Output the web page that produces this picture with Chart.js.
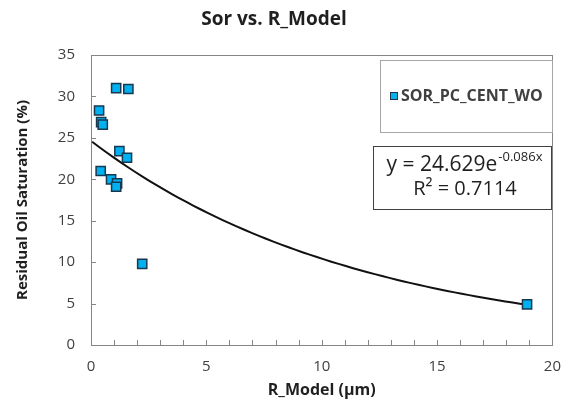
<!DOCTYPE html>
<html>
<head>
<meta charset="utf-8">
<title>Sor vs. R_Model</title>
<script src="https://cdn.jsdelivr.net/npm/chart.js@4.4.1/dist/chart.umd.min.js"></script>
<style>
  html, body { margin: 0; padding: 0; background: #fff; }
  #wrap { position: relative; width: 574px; height: 410px; }
</style>
</head>
<body>
<div id="wrap">
  <canvas id="chart" width="574" height="410"></canvas>
</div>
<script>
// ── DATA ────────────────────────────────────────────────────
const rModel = [1.09, 1.62, 0.35, 0.44, 0.51, 1.23, 1.56, 0.42, 0.87, 1.13, 1.09, 2.22, 18.9];
const sorPct = [31.0, 30.9, 28.3, 26.9, 26.6, 23.4, 22.6, 21.0, 20.0, 19.5, 19.1, 9.8, 4.9];
const xTicks = [0, 5, 10, 15, 20];
const yTicks = [0, 5, 10, 15, 20, 25, 30, 35];

// exponential trendline y = a * e^(b x), as printed on the chart
const trendA = 24.629;
const trendB = -0.086;
const trendR2 = 0.7114;
const trendFrom = 0.05;

const FONT = '"Open Sans", sans-serif';
const BLUE = '#00b0f0';
const MARK_EDGE = '#17394f';

// trend curve sampled between first fitted x and the largest measured x
const trendPts = [];
(function () {
  const xMax = Math.max(...rModel);
  const n = 60;
  for (let i = 0; i <= n; i++) {
    const x = trendFrom + (xMax - trendFrom) * i / n;
    trendPts.push({ x: x, y: trendA * Math.exp(trendB * x) });
  }
})();

const points = rModel.map((x, i) => ({ x: x, y: sorPct[i] }));

// ── DECORATIONS: frame, inside ticks, title, legend, equation ──
const decor = {
  id: 'decor',
  beforeDatasetsDraw(chart) {
    const { ctx, chartArea: a, scales: { x, y } } = chart;
    ctx.save();
    ctx.strokeStyle = '#868686';
    ctx.lineWidth = 1;
    ctx.strokeRect(Math.round(a.left) + 0.5, Math.round(a.top) + 0.5,
                   Math.round(a.right - a.left), Math.round(a.bottom - a.top));
    ctx.beginPath();
    for (let v = x.min; v <= x.max; v++) {
      const px = Math.round(x.getPixelForValue(v)) + 0.5;
      ctx.moveTo(px, a.bottom);
      ctx.lineTo(px, a.bottom - 5);
    }
    yTicks.forEach(v => {
      const py = Math.round(y.getPixelForValue(v)) + 0.5;
      ctx.moveTo(a.left, py);
      ctx.lineTo(a.left + 5, py);
    });
    ctx.stroke();
    ctx.restore();
  },
  afterDraw(chart) {
    const { ctx } = chart;
    ctx.save();

    // title
    ctx.fillStyle = '#1f1f1f';
    ctx.font = 'bold 19px ' + FONT;
    ctx.textAlign = 'center';
    ctx.textBaseline = 'middle';
    ctx.fillText('Sor vs. R_Model', 274, 20);

    // legend box
    ctx.fillStyle = '#fff';
    ctx.fillRect(380.5, 60.5, 172, 72);
    ctx.strokeStyle = '#a6a6a6';
    ctx.strokeRect(380.5, 60.5, 172, 72);
    ctx.fillStyle = BLUE;
    ctx.fillRect(390.5, 92.5, 7, 7);
    ctx.strokeStyle = MARK_EDGE;
    ctx.strokeRect(390.5, 92.5, 7, 7);
    ctx.fillStyle = '#404040';
    ctx.font = 'bold 16px ' + FONT;
    ctx.textAlign = 'left';
    ctx.fillText('SOR_PC_CENT_WO', 401, 96.5);

    // equation box
    ctx.fillStyle = '#fff';
    ctx.fillRect(373.5, 146.5, 178, 63);
    ctx.strokeStyle = '#404040';
    ctx.strokeRect(373.5, 146.5, 178, 63);
    ctx.fillStyle = '#1f1f1f';
    const main = 'y = ' + trendA.toFixed(3) + 'e';
    const sup = trendB.toFixed(3) + 'x';
    ctx.font = '21px ' + FONT;
    const wMain = ctx.measureText(main).width;
    ctx.font = '13px ' + FONT;
    const wSup = ctx.measureText(sup).width;
    const x0 = 464 - (wMain + wSup) / 2;
    ctx.font = '21px ' + FONT;
    ctx.textAlign = 'left';
    ctx.fillText(main, x0, 165);
    ctx.font = '13px ' + FONT;
    ctx.fillText(sup, x0 + wMain + 1, 157);
    ctx.font = '20px ' + FONT;
    ctx.textAlign = 'center';
    ctx.fillText('R\u00b2 = ' + trendR2, 465, 189);

    ctx.restore();
  }
};

// ── CHART ───────────────────────────────────────────────────
new Chart(document.getElementById('chart'), {
  type: 'scatter',
  data: {
    datasets: [
      {
        label: 'SOR_PC_CENT_WO',
        data: points,
        pointStyle: 'rect',
        pointRadius: 6.5,
        backgroundColor: BLUE,
        borderColor: MARK_EDGE,
        borderWidth: 1.5,
        order: 1
      },
      {
        label: 'trend',
        data: trendPts,
        showLine: true,
        pointRadius: 0,
        borderColor: '#111',
        borderWidth: 2,
        tension: 0,
        order: 2
      }
    ]
  },
  options: {
    responsive: false,
    animation: false,
    layout: { padding: { top: 55, right: 17, left: 0, bottom: 0 } },
    plugins: {
      legend: { display: false },
      title: { display: false },
      tooltip: { enabled: false }
    },
    scales: {
      x: {
        type: 'linear',
        min: xTicks[0],
        max: xTicks[xTicks.length - 1],
        afterFit: s => { s.height = 65; },
        afterBuildTicks: s => { s.ticks = xTicks.map(v => ({ value: v })); },
        grid: { display: false, drawTicks: false },
        border: { display: false },
        ticks: { padding: 13, color: '#404040', font: { family: FONT, size: 15 }, maxRotation: 0 },
        title: {
          display: true,
          text: 'R_Model (\u00b5m)',
          color: '#1f1f1f',
          font: { family: FONT, size: 16, weight: 'bold' },
          padding: { top: 0, bottom: 10 }
        }
      },
      y: {
        type: 'linear',
        min: yTicks[0],
        max: yTicks[yTicks.length - 1],
        afterFit: s => { s.width = 91; },
        afterBuildTicks: s => { s.ticks = yTicks.map(v => ({ value: v })); },
        grid: { display: false, drawTicks: false },
        border: { display: false },
        ticks: { padding: 16, color: '#404040', font: { family: FONT, size: 15 } },
        title: {
          display: true,
          text: 'Residual Oil Saturation (%)',
          color: '#1f1f1f',
          font: { family: FONT, size: 15, weight: 'bold' },
          padding: { top: 14, bottom: 0 }
        }
      }
    }
  },
  plugins: [decor]
});
</script>
</body>
</html>
